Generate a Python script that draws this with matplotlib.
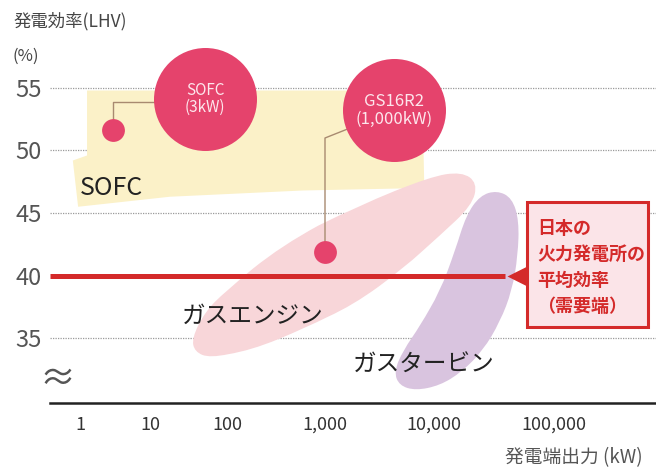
import numpy as np
import matplotlib.pyplot as plt
from matplotlib.path import Path
from matplotlib.patches import PathPatch, Polygon, Rectangle

plt.rcParams['font.family'] = ['Noto Sans CJK JP', 'DejaVu Sans']

# 横軸 (発電端出力 kW) の目盛
tick_kw = [1, 10, 100, 1000, 10000, 100000]
tick_labels = ['1', '10', '100', '1,000', '10,000', '100,000']
y_ticks = [35, 40, 45, 50, 55]

# 各発電方式の効率レンジ (kW, %)
sofc_kw = [1.26, 7800, 8150, 590, 18, 0.94, 0.79, 1.26]
sofc_eff = [54.8, 54.8, 47.0, 46.8, 46.3, 45.5, 49.2, 49.6]

engine_kw = [35, 52, 94, 360, 2050, 9200, 17100, 23000, 20700, 11200,
             5300, 1800, 630, 175, 60, 38]
engine_eff = [35.0, 37.1, 38.7, 42.4, 45.6, 47.9, 48.3, 47.4, 45.6, 43.2,
              40.6, 37.6, 35.8, 34.0, 33.4, 33.9]

turbine_kw = [33500, 44700, 51100, 50000, 44700, 35500, 25600, 17100, 11200,
              6800, 4800, 4300, 5200, 7500, 11200, 15000, 18500, 24200]
turbine_eff = [46.8, 46.2, 44.4, 41.6, 38.8, 36.3, 34.0, 32.3, 31.2,
               30.8, 31.2, 32.3, 34.0, 36.0, 38.7, 42.0, 44.8, 46.4]

# 製品の実績値
sofc_point = (3, 51.6)
gs_point = (1000, 41.9)
sofc_bubble = (52, 54.1)
gs_bubble = (4300, 53.2)

# 国内火力の平均効率
thermal_avg = 40
thermal_end_kw = 39000
arrow_kw = 49000

# 目盛の間隔 (桁ごとに少しずつ広がる)
decade_log = [-2, -1, 0, 1, 2, 3, 4, 5, 6, 7]
decade_pos = [-60, 10, 80, 150, 227, 325, 434, 554, 674, 794]


def forward(x):
    return np.interp(np.log10(np.maximum(x, 1e-6)), decade_log, decade_pos)


def inverse(p):
    return 10 ** np.interp(p, decade_pos, decade_log)


def smooth_blob(xs, ys):
    # 閉じた二次ベジェで輪郭をなめらかにつなぐ
    n = len(xs)
    lx = np.log10(xs)
    mids = [(10 ** ((lx[i] + lx[(i + 1) % n]) / 2), (ys[i] + ys[(i + 1) % n]) / 2)
            for i in range(n)]
    verts = [mids[-1]]
    codes = [Path.MOVETO]
    for i in range(n):
        verts += [(xs[i], ys[i]), mids[i]]
        codes += [Path.CURVE3, Path.CURVE3]
    return Path(verts, codes)


red = '#d42a2a'
bubble_col = '#e5436c'

fig = plt.figure(figsize=(6.56, 4.73), dpi=100)
ax = fig.add_axes([50 / 656, 70 / 473, 606 / 656, 403 / 473])
ax.set_xscale('function', functions=(forward, inverse))
ax.set_xlim(inverse(50), inverse(656))
ax.set_ylim(29.8, 62.04)

# 点線のグリッド
for y in [35, 45, 50, 55]:
    ax.axhline(y, color='#9a9a9a', lw=0.9, ls=(0, (1, 1)), zorder=0)

# レンジ
ax.add_patch(Polygon(list(zip(sofc_kw, sofc_eff)), closed=True,
                     fc='#fbf1c8', ec='none', zorder=1))
ax.add_patch(PathPatch(smooth_blob(engine_kw, engine_eff),
                       fc='#f8d6d9', ec='none', zorder=2))
ax.add_patch(PathPatch(smooth_blob(turbine_kw, turbine_eff),
                       fc='#d9c4df', ec='none', zorder=3))

ax.text(1.0, 47.0, 'SOFC', fontsize=18, color='#222222', va='center', zorder=6)
ax.text(26, 36.7, 'ガスエンジン', fontsize=17, color='#222222', va='center', zorder=6)
ax.text(1800, 32.8, 'ガスタービン', fontsize=17, color='#222222', va='center', zorder=6)

# 平均効率ライン
ax.plot([ax.get_xlim()[0], thermal_end_kw], [thermal_avg, thermal_avg],
        color=red, lw=3.6, solid_capstyle='butt', zorder=5)
ax.plot([arrow_kw], [thermal_avg], marker='<', ms=15, color=red, mec='none',
        zorder=5, clip_on=False)

# 引き出し線と吹き出し
ax.plot([sofc_point[0], sofc_point[0], sofc_bubble[0]],
        [sofc_point[1], 53.9, 53.9], color='#a88a70', lw=1.0, zorder=6)
ax.plot([gs_point[0], gs_point[0], gs_bubble[0]],
        [gs_point[1], 51.0, gs_bubble[1]], color='#a88a70', lw=1.0, zorder=6)
ax.scatter([sofc_point[0], gs_point[0]], [sofc_point[1], gs_point[1]],
           s=270, color=bubble_col, lw=0, zorder=7)
ax.scatter([sofc_bubble[0], gs_bubble[0]], [sofc_bubble[1], gs_bubble[1]],
           s=5500, color=bubble_col, lw=0, zorder=7, clip_on=False)
ax.text(sofc_bubble[0], sofc_bubble[1], 'SOFC\n(3kW)', fontsize=11,
        color='#fde6ec', ha='center', va='center', linespacing=1.0, zorder=8)
ax.text(gs_bubble[0], gs_bubble[1], 'GS16R2\n(1,000kW)', fontsize=12,
        color='#fde6ec', ha='center', va='center', linespacing=1.0, zorder=8)

# 説明ボックス
ax.add_patch(Rectangle((0.787, 0.189), 0.2, 0.31, transform=ax.transAxes,
                       fc='#fbe4e8', ec=red, lw=2.2, zorder=9, clip_on=False))
box_lines = ['日本の', '火力発電所の', '平均効率', '（需要端）']
for i, line in enumerate(box_lines):
    ax.text(0.804, 0.434 - i * 0.065, line, transform=ax.transAxes,
            fontsize=13, fontweight='bold', color=red, va='center', zorder=10)

# 軸
for side in ['top', 'right', 'left']:
    ax.spines[side].set_visible(False)
ax.spines['bottom'].set_linewidth(1.8)
ax.spines['bottom'].set_color('#222222')
ax.set_xticks(tick_kw)
ax.set_xticklabels(tick_labels)
ax.set_yticks(y_ticks)
ax.set_yticklabels([str(v) for v in y_ticks])
ax.tick_params(axis='x', length=0, pad=9, labelsize=13, labelcolor='#333333')
ax.tick_params(axis='y', length=0, pad=6, labelsize=17, labelcolor='#555555')
ax.minorticks_off()

fig.text(58 / 656, 1 - 380 / 473, '≈', fontsize=26, color='#555555',
         ha='center', va='center')
fig.text(13 / 656, 1 - 21 / 473, '発電効率(LHV)', fontsize=12.5, color='#444444',
         va='center')
fig.text(13 / 656, 1 - 56 / 473, '(%)', fontsize=12, color='#444444', va='center')
fig.text(505 / 656, 1 - 458 / 473, '発電端出力 (kW)', fontsize=13.5,
         color='#555555', va='center')

fig.savefig('out.png', dpi=100)
